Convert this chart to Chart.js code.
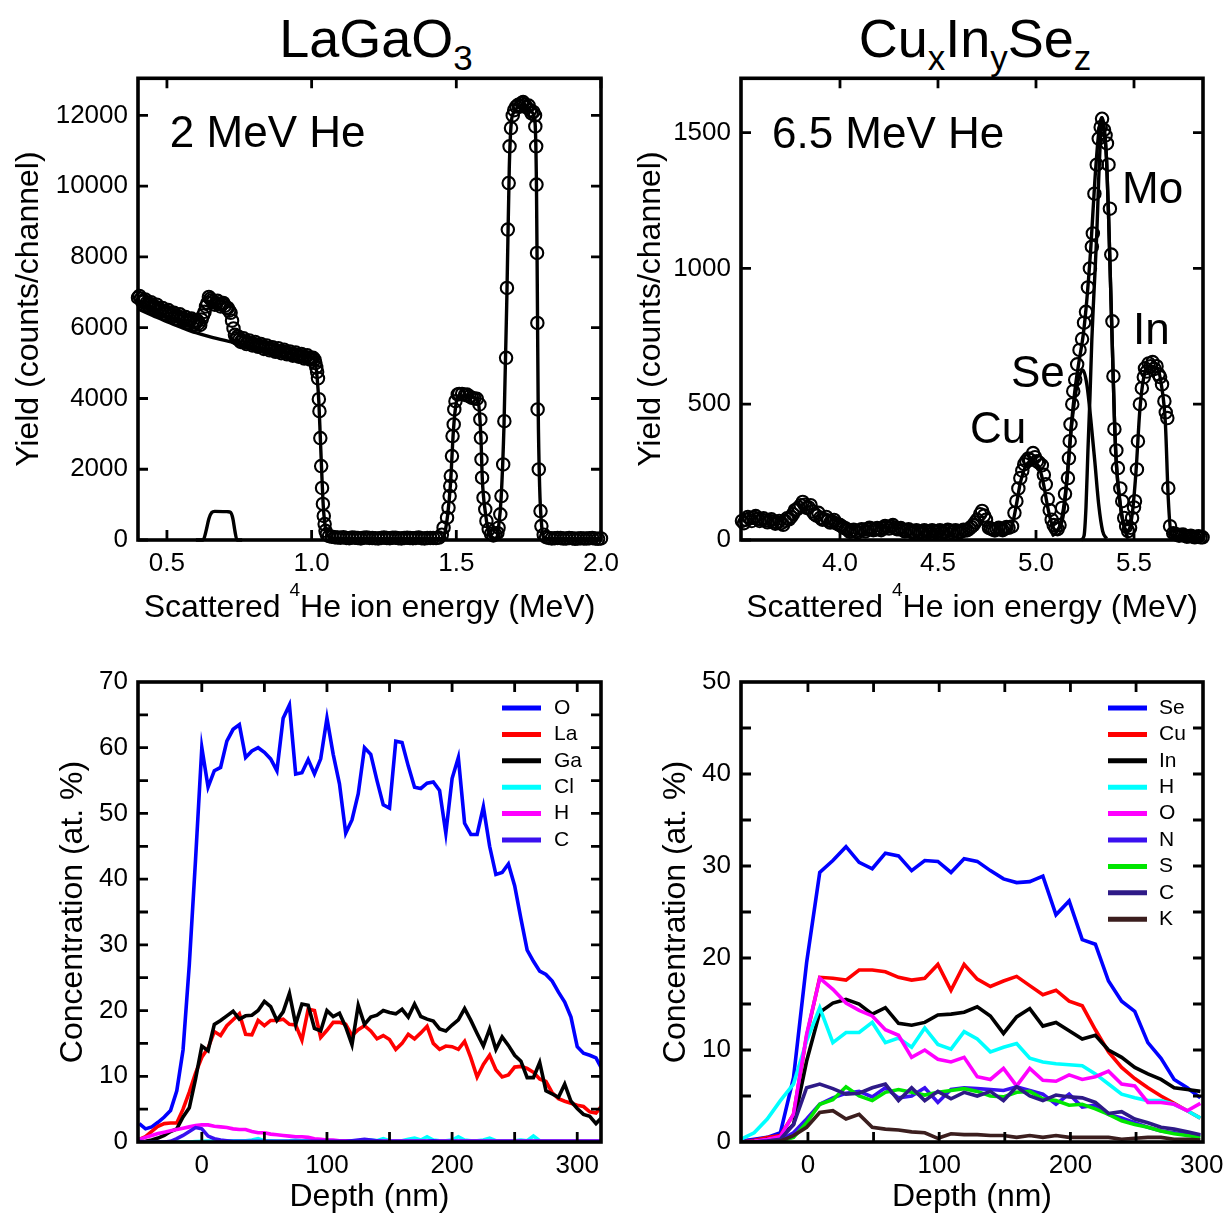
<!DOCTYPE html>
<html>
<head>
<meta charset="utf-8">
<script src="https://cdn.jsdelivr.net/npm/chart.js@4.4.1/dist/chart.umd.min.js"></script>
<style>
body { margin: 0; background: #fff; }
#page { position: relative; width: 1227px; height: 1213px; overflow: hidden; font-family: 'Liberation Sans', Arial, sans-serif; }
canvas { position: absolute; }
.ttl { position: absolute; top: 11px; font-size: 54px; line-height: 54px; white-space: nowrap; text-align: center; width: 600px; }
.ttl span { font-size: 35px; position: relative; top: 13px; }
</style>
</head>
<body>
<div id="page">
  <div class="ttl" style="left:76px">LaGaO<span>3</span></div>
  <div class="ttl" style="left:675px">Cu<span>x</span>In<span>y</span>Se<span>z</span></div>
  <canvas id="tl" width="640" height="570" style="left:0;top:70px"></canvas>
  <canvas id="tr" width="614" height="570" style="left:613px;top:70px"></canvas>
  <canvas id="bl" width="613" height="573" style="left:0;top:640px"></canvas>
  <canvas id="br" width="614" height="573" style="left:613px;top:640px"></canvas>
</div>
<script>
// ---- LaGaO3 spectrum (2 MeV He) ----
const tlDataE = [0.40,0.41,0.42,0.43,0.44,0.45,0.46,0.47,0.48,0.49,0.50,0.51,0.52,0.53,0.54,0.55,0.56,0.57,0.58,0.59,0.60,0.61,0.62,0.63,0.64,0.645,0.65,0.66,0.67,0.68,0.69,0.70,0.71,0.72,0.725,0.73,0.735,0.74,0.75,0.76,0.77,0.78,0.79,0.80,0.81,0.82,0.83,0.84,0.85,0.86,0.87,0.88,0.89,0.90,0.91,0.92,0.93,0.94,0.95,0.96,0.97,0.98,0.99,1.00,1.005,1.010,1.013,1.016,1.019,1.022,1.025,1.027,1.030,1.033,1.036,1.039,1.042,1.045,1.048,1.052,1.06,1.07,1.08,1.09,1.10,1.12,1.14,1.16,1.18,1.20,1.22,1.24,1.26,1.28,1.30,1.32,1.34,1.36,1.38,1.40,1.42,1.44,1.45,1.456,1.468,1.473,1.477,1.479,1.481,1.485,1.487,1.491,1.493,1.497,1.505,1.51,1.52,1.53,1.537,1.545,1.554,1.562,1.571,1.580,1.583,1.585,1.587,1.589,1.594,1.600,1.604,1.612,1.62,1.628,1.635,1.642,1.646,1.652,1.656,1.662,1.666,1.672,1.675,1.678,1.681,1.684,1.689,1.695,1.70,1.707,1.714,1.72,1.726,1.731,1.737,1.743,1.75,1.755,1.760,1.766,1.772,1.773,1.776,1.777,1.779,1.780,1.781,1.785,1.791,1.794,1.802,1.81,1.82,1.84,1.86,1.88,1.90,1.92,1.94,1.96,1.98,2.00]
const tlDataY = [6850,6820,6760,6700,6680,6620,6590,6560,6500,6470,6440,6420,6370,6330,6320,6280,6250,6200,6220,6170,6150,6120,6230,6450,6700,6870,6820,6740,6700,6660,6680,6620,6560,6420,6200,5980,5800,5700,5660,5640,5600,5580,5560,5540,5520,5480,5470,5450,5420,5400,5380,5350,5340,5330,5300,5280,5260,5250,5230,5200,5190,5160,5150,5120,5150,5100,5000,4880,4750,4570,3980,3640,2880,2090,1470,1020,680,450,260,160,110,90,80,70,65,60,70,55,65,60,50,60,55,65,50,60,55,60,50,55,60,70,150,347,630,912,1243,1525,1807,2372,2937,3267,3690,3925,4114,4130,4130,4100,4110,4060,4020,4000,3990,3830,3408,2889,2278,1760,1195,866,537,301,170,130,160,200,347,725,1243,2137,3360,5148,7125,8774,10090,11126,11643,12000,12150,12250,12300,12250,12350,12380,12300,12230,12280,12150,12060,12100,12000,11690,11126,10045,8114,6137,3690,1996,819,395,150,80,60,50,55,45,50,40,45,50,40,45]
// in-between channels of the plateau and background bands
const tlMoreE = [0.405,0.415,0.425,0.435,0.445,0.455,0.465,0.475,0.485,0.495,0.505,0.515,0.525,0.535,0.545,0.555,0.565,0.575,0.585,0.595,0.605,0.615,0.625,0.635,0.655,0.665,0.675,0.685,0.695,0.705,0.715,0.745,0.755,0.765,0.775,0.785,0.795,0.805,0.815,0.825,0.835,0.845,0.855,0.865,0.875,0.885,0.895,0.905,0.915,0.925,0.935,0.945,0.955,0.965,0.975,0.985,0.995,1.11,1.13,1.15,1.17,1.19,1.21,1.23,1.25,1.27,1.29,1.31,1.33,1.35,1.37,1.39,1.41,1.43,1.83,1.85,1.87,1.89,1.91,1.93,1.95,1.97,1.99]
const tlMoreY = [6900,6730,6800,6640,6720,6560,6650,6480,6560,6400,6500,6350,6420,6260,6380,6220,6300,6140,6260,6100,6200,6080,6350,6600,6780,6650,6760,6600,6700,6560,6480,5760,5600,5700,5540,5640,5500,5600,5460,5540,5400,5500,5360,5450,5320,5420,5280,5380,5250,5330,5210,5300,5180,5260,5130,5220,5100,75,50,65,45,70,55,45,70,50,65,45,65,50,70,45,60,55,45,60,40,55,35,50,40,55,35]
const tlSimE = [0.40,0.45,0.50,0.55,0.60,0.65,0.70,0.75,0.80,0.85,0.90,0.95,1.00,1.01,1.015,1.02,1.025,1.03,1.035,1.04,1.045,1.05,1.06,1.08,1.45,1.46,1.47,1.48,1.49,1.50,1.51,1.55,1.575,1.58,1.585,1.59,1.60,1.61,1.62,1.64,1.645,1.655,1.665,1.675,1.683,1.69,1.70,1.73,1.76,1.772,1.777,1.780,1.783,1.788,1.795,1.80,1.82,2.0]
const tlSimY = [6530,6350,6170,6010,5860,5740,5640,5550,5460,5380,5310,5230,5150,5080,4900,4500,3900,2900,1900,1000,500,250,90,40,40,200,700,1600,3100,3900,4080,4050,3950,3600,2900,1700,800,300,80,50,300,1200,3300,7000,10500,11800,12100,12300,12100,11800,10000,7000,3700,1500,400,100,40,40]
const tlClE = [0.60,0.625,0.635,0.645,0.655,0.665,0.71,0.72,0.728,0.735,0.742,0.76]
const tlClY = [0,0,250,600,780,810,800,780,600,250,0,0]
const tlXLabels = [0.5, 1.0, 1.5, 2.0]
const tlYLabels = [0, 2000, 4000, 6000, 8000, 10000, 12000]

// ---- CuxInySez spectrum (6.5 MeV He) ----
const trDataE = [3.50,3.52,3.54,3.56,3.58,3.60,3.62,3.64,3.66,3.68,3.70,3.72,3.74,3.76,3.78,3.80,3.82,3.84,3.86,3.88,3.90,3.92,3.94,3.96,3.98,4.00,4.02,4.04,4.06,4.08,4.10,4.12,4.14,4.16,4.18,4.20,4.22,4.24,4.26,4.28,4.30,4.32,4.34,4.36,4.38,4.40,4.42,4.44,4.46,4.48,4.50,4.52,4.54,4.56,4.58,4.60,4.62,4.64,4.66,4.68,4.70,4.715,4.725,4.735,4.745,4.76,4.78,4.80,4.82,4.84,4.86,4.878,4.89,4.90,4.91,4.92,4.93,4.94,4.95,4.96,4.97,4.985,4.995,5.005,5.015,5.03,5.04,5.05,5.06,5.07,5.08,5.09,5.10,5.11,5.12,5.133,5.148,5.163,5.168,5.172,5.176,5.185,5.19,5.20,5.21,5.222,5.235,5.245,5.255,5.265,5.275,5.285,5.29,5.298,5.31,5.32,5.33,5.337,5.347,5.355,5.362,5.37,5.377,5.384,5.39,5.395,5.40,5.41,5.418,5.43,5.44,5.45,5.46,5.47,5.48,5.49,5.50,5.505,5.515,5.52,5.53,5.54,5.55,5.556,5.565,5.575,5.585,5.595,5.605,5.615,5.625,5.633,5.643,5.655,5.662,5.67,5.675,5.684,5.70,5.72,5.74,5.76,5.78,5.80,5.82,5.84,5.85]
const trDataY = [70,75,80,82,78,75,72,70,68,64,62,70,76,95,113,128,130,120,105,90,82,76,72,68,62,55,45,38,33,32,35,38,40,42,38,40,45,48,50,45,40,38,35,32,30,32,30,33,30,32,33,30,32,35,33,30,32,35,42,55,75,95,107,90,75,45,38,40,40,42,45,50,100,143,190,228,255,279,290,300,295,320,305,290,285,275,240,205,150,110,75,55,42,40,55,118,170,228,301,364,426,500,548,590,647,700,740,800,840,930,1000,1080,1129,1275,1382,1478,1520,1551,1510,1490,1460,1382,1220,1051,805,603,408,330,265,190,143,81,50,33,45,81,120,143,260,364,500,559,600,632,620,650,640,655,630,640,610,600,573,511,470,449,191,51,25,20,18,15,14,12,12,10,10]
const trMoreE = [3.51,3.53,3.55,3.57,3.59,3.61,3.63,3.65,3.67,3.69,3.71,3.73,3.75,3.77,3.79,3.81,3.83,3.85,3.87,3.89,3.91,3.93,3.95,3.97,3.99,4.01,4.03,4.05,4.07,4.09,4.11,4.13,4.15,4.17,4.19,4.21,4.23,4.25,4.27,4.29,4.31,4.33,4.35,4.37,4.39,4.41,4.43,4.45,4.47,4.49,4.51,4.53,4.55,4.57,4.59,4.61,4.63,4.65,4.67,4.69,4.77,4.79,4.81,4.83,4.85,5.71,5.73,5.75,5.77,5.79,5.81,5.83]
const trMoreY = [62,85,70,88,70,80,65,76,60,70,56,80,85,110,120,140,118,128,95,100,75,85,64,74,58,50,42,30,38,28,40,32,45,36,44,36,52,42,55,40,44,32,40,28,36,26,36,28,36,28,36,26,38,28,36,28,38,36,48,65,42,35,45,36,48,22,16,20,12,16,10,14]
const trSimE = [4.80,4.85,4.88,4.90,4.92,4.95,4.98,5.00,5.02,5.04,5.06,5.08,5.10,5.12,5.14,5.16,5.18,5.20,5.22,5.24,5.26,5.28,5.30,5.32,5.335,5.35,5.36,5.37,5.38,5.39,5.40,5.41,5.43,5.45,5.47,5.49,5.51,5.53,5.55,5.58,5.62,5.64,5.66,5.675,5.69,5.72,5.85]
const trSimY = [20,25,60,130,210,275,290,285,260,200,120,60,35,45,95,240,420,560,660,750,890,1080,1320,1500,1555,1500,1400,1200,950,700,450,280,130,50,35,90,250,480,600,640,630,570,430,150,20,8,5]
const trSeE = [5.08,5.10,5.12,5.14,5.16,5.18,5.20,5.22,5.24,5.26,5.28,5.30,5.32,5.34,5.36]
const trSeY = [15,25,50,115,240,410,530,600,625,570,440,290,130,33,5]
const trMoE = [5.23,5.245,5.255,5.265,5.275,5.285,5.295,5.31,5.32,5.33,5.337,5.35,5.36,5.37,5.38,5.39,5.40,5.41,5.43,5.45,5.47]
const trMoY = [0,15,120,330,520,740,900,1125,1330,1492,1555,1500,1400,1200,950,700,450,280,130,45,5]
const trXLabels = [4.0, 4.5, 5.0, 5.5]
const trYLabels = [0, 500, 1000, 1500]

// ---- LaGaO3 depth profile ----
const blDepth = [-50,-45,-40,-35,-30,-25,-20,-15,-10,-5,0,5,10,15,20,25,30,35,40,45,50,55,60,65,70,75,80,85,90,95,100,105,110,115,120,125,130,135,140,145,150,155,160,165,170,175,180,185,190,195,200,205,210,215,220,225,230,235,240,245,250,255,260,265,270,275,280,285,290,295,300,305,310,315,320]
const blO = [2.8,2.0,2.3,3.0,3.8,4.8,7.8,14,27,43,60,54,56.5,57,61,62.8,63.5,58.5,59.5,60,59.3,58.3,56.5,64.5,66.5,56,56.2,58.2,56,58.3,64.5,59,54.5,47,49,53,60,59,55,51.3,50.8,61,60.8,57.2,54,53.8,54.6,54.8,53.5,47,55.3,58.5,48.5,46.8,46.8,51,45,40.7,41,42.3,39,34,29.2,27.5,26,25.5,24.5,22.8,21.3,19,14.5,13.5,13.2,12.8,11]
const blLa = [0.4,0.8,1.6,2.4,2.8,2.9,2.9,5.0,7.6,10.5,12.9,14.3,16.8,16.2,17.7,18.6,19.5,16.4,16.3,18.5,17.7,18.5,18.5,18.7,17.9,17.8,15.5,20.2,20,15.9,17.0,18.2,18.2,17.9,16.2,17.1,17.7,16.9,15.7,16.2,15.6,14.1,15.0,16.4,15.7,16.6,17.6,15.0,14.1,14.6,14.5,14.1,15.3,12.8,9.9,11.8,13.2,11.0,9.9,10.2,11.4,11.5,11.2,10.6,9.6,9.2,7.5,6.6,6.2,5.9,5.6,5.4,4.6,4.4,5.6]
const blGa = [0,0.1,0.3,0.6,1.0,1.6,2.0,3.8,5.2,9.6,14.6,13.9,17.9,18.5,19.2,19.9,18.7,19.2,19.3,20.0,21.4,20.6,18.5,19.8,22.6,17.9,21.0,20.8,17.3,16.9,20.0,19.1,19.6,17.5,14.8,20.8,17.9,19.0,19.3,20.0,19.7,19.5,20.2,19.0,21.0,19.1,18.7,18.4,17.2,16.9,17.8,18.6,20.3,18.5,16.5,14.6,17.2,14.1,16.0,14.7,13.2,12.3,9.8,9.8,12.1,7.8,7.3,6.8,8.8,6.2,5.1,4.2,3.9,2.8,3.8]
const blCl = [0,0,0,0,0,0,0,0,0,0.05,0.1,0.15,0.15,0.15,0.15,0.2,0.2,0.2,0.3,0.5,0.2,0.2,0.15,0.15,0.2,0.3,0.2,0.2,0.15,0.2,0.3,0.2,0.15,0.15,0.2,0.2,0.15,0.3,0.2,0.5,0.2,0.2,0.2,0.4,0.6,0.3,0.8,0.3,0.2,0.2,0.3,0.8,0.3,0.2,0.2,0.3,0.6,0.2,0.2,0.2,0.2,0.3,0.2,0.9,0.2,0.15,0.15,0.15,0.1,0.1,0.1,0.1,0.1,0.1,0.1]
const blH = [0.4,0.7,1.0,1.3,1.5,1.7,1.9,2.1,2.3,2.5,2.6,2.6,2.4,2.3,2.2,2.0,1.9,1.9,1.6,1.4,1.4,1.2,1.1,1.0,0.9,0.8,0.8,0.7,0.5,0.4,0.3,0.3,0.2,0.2,0.2,0.2,0.15,0.15,0.15,0.15,0.15,0.15,0.15,0.15,0.15,0.15,0.15,0.15,0.15,0.15,0.15,0.15,0.15,0.15,0.15,0.15,0.15,0.15,0.15,0.15,0.15,0.15,0.15,0.15,0.15,0.15,0.15,0.15,0.15,0.15,0.15,0.15,0.15,0.15,0.15]
const blC = [0.1,0,0,0,0,0.1,0.5,1.0,1.6,2.2,2.0,0.9,0.5,0.3,0.2,0.1,0.1,0.1,0.1,0.1,0.1,0.1,0.1,0.1,0.1,0.1,0.1,0.1,0.1,0.1,0.1,0.1,0.1,0.1,0.2,0.3,0.4,0.3,0.2,0.1,0.1,0.1,0.1,0.1,0.1,0.1,0.1,0.2,0.1,0.1,0.1,0.1,0.1,0.1,0.1,0.1,0.1,0.1,0.1,0.1,0.1,0.1,0.1,0.1,0.1,0.1,0.1,0.1,0.1,0.1,0.1,0.1,0.1,0.1,0.1]
const blXLabels = [0, 100, 200, 300]
const blXMarks = [0, 50, 100, 150, 200, 250, 300]
const blYLabels = [0, 10, 20, 30, 40, 50, 60, 70]
const blYMarks = [5, 10, 15, 20, 25, 30, 35, 40, 45, 50, 55, 60, 65]

// ---- CuxInySez depth profile ----
const brDepth = [-51,-41,-31,-21,-11,-1,9,19,29,39,49,59,69,79,89,99,109,119,129,139,149,159,169,179,189,199,209,219,229,239,249,259,269,279,289,299]
const brSe = [0.1,0.3,0.5,1.0,7,19.5,29.3,30.6,32.1,30.4,29.7,31.4,31.1,29.5,30.6,30.5,29.3,30.8,30.5,29.5,28.6,28.2,28.3,28.9,24.7,26.2,22,21.5,17.5,15.3,14.2,10.8,9.1,6.8,5.9,4.8]
const brCu = [0,0.2,0.5,0.7,3,11.5,17.9,17.8,17.6,18.7,18.7,18.5,17.9,17.6,17.8,19.3,16.5,19.3,17.7,16.9,17.5,18.0,17.0,16.0,16.5,15.3,14.8,12.2,9.8,8.1,6.9,5.9,5.0,4.2,3.4,2.6]
const brIn = [0,0.1,0.3,0.5,1.9,8.8,14.1,15.1,15.5,15.0,13.9,14.6,12.9,12.7,13.0,13.8,13.9,14.1,14.7,13.7,11.8,13.6,14.5,12.6,13.0,12.1,11.2,11.6,10.0,9.2,8.1,7.4,6.8,5.9,5.7,5.5]
const brH = [0.3,1.0,2.5,4.5,6.3,11.0,14.6,10.8,11.9,11.9,13.0,10.8,11.3,10.3,12.4,10.6,10.1,12.0,11.2,9.8,10.3,10.7,9.1,8.7,8.5,8.4,8.3,7.4,6.3,5.2,4.8,4.5,4.5,4.1,3.4,2.6]
const brO = [0,0.1,0.3,0.6,3.0,11.7,17.8,16.6,15.1,14.3,13.7,12.2,11.6,9.2,10.0,9.0,8.7,9.2,7.1,6.8,8.0,6.1,8.0,6.7,6.6,7.3,6.8,7.1,7.7,6.3,6.1,4.3,4.3,4.1,3.4,4.2]
const brN = [0,0,0.1,0.2,1.0,2.5,4.1,4.8,5.3,5.5,4.9,5.9,4.8,5.0,5.9,4.3,5.7,5.9,5.8,5.7,5.6,6.0,5.6,5.2,4.1,5.2,3.8,4.0,3.0,2.6,2.1,1.6,1.2,1.0,0.8,0.7]
const brS = [0,0,0,0.1,0.5,2.1,4.1,4.6,6.0,5.0,4.5,5.4,5.7,5.4,5.1,5.4,5.6,5.8,5.5,5.0,4.9,5.4,5.5,4.7,4.5,4.0,4.1,3.6,3.0,2.3,1.9,1.6,1.2,0.9,0.7,0.5]
const brC = [0,0,0.1,0.3,1.9,5.9,6.3,5.8,5.2,5.3,5.9,6.3,4.5,5.9,4.5,5.5,4.7,5.4,5.0,5.5,4.5,6.0,5.0,4.5,5.1,4.9,4.8,4.3,3.1,3.3,2.5,2.1,1.6,1.4,1.1,0.8]
const brK = [0,0,0,0.1,0.7,1.6,3.2,3.4,2.5,3.0,1.6,1.4,1.3,1.1,1.0,0.4,0.9,0.8,0.8,0.7,0.7,0.5,0.7,0.5,0.7,0.5,0.5,0.5,0.5,0.3,0.4,0.5,0.5,0.3,0.3,0.2]
const brXLabels = [0, 100, 200, 300]
const brXMarks = [0, 50, 100, 150, 200, 250]
const brYLabels = [0, 10, 20, 30, 40, 50]
const brYMarks = [5, 10, 15, 20, 25, 30, 35, 40, 45]

const FONT = "'Liberation Sans', Arial, sans-serif"
Chart.defaults.font.family = FONT
Chart.defaults.color = '#000'

const pts = (xs, ys) => xs.map((x, i) => ({ x: x, y: ys[i] }))

// frame, inward ticks, legend, text notes and the 4He axis title
const framePlugin = {
    id: 'frame',
    afterDatasetsDraw(chart, args, o) {
        const { ctx, chartArea: a } = chart
        const xs = chart.scales.x, ys = chart.scales.y
        ctx.save()
        ctx.strokeStyle = '#000'
        ctx.lineWidth = 2.8
        ctx.beginPath()
        o.xMarks.forEach(v => {
            const p = xs.getPixelForValue(v)
            ctx.moveTo(p, a.bottom); ctx.lineTo(p, a.bottom - 10)
            ctx.moveTo(p, a.top); ctx.lineTo(p, a.top + 10)
        })
        o.yMarks.forEach(v => {
            const p = ys.getPixelForValue(v)
            ctx.moveTo(a.left, p); ctx.lineTo(a.left + 10, p)
            ctx.moveTo(a.right, p); ctx.lineTo(a.right - 10, p)
        })
        ctx.stroke()
        ctx.lineWidth = 3.6
        ctx.strokeRect(a.left, a.top, a.right - a.left, a.bottom - a.top)

        ctx.fillStyle = '#000'
        if (o.legend) {
            ctx.font = '21px ' + FONT
            ctx.textBaseline = 'middle'
            ctx.textAlign = 'left'
            chart.data.datasets.forEach((ds, i) => {
                const yy = a.top + o.legend.top + i * 26.4
                ctx.strokeStyle = ds.borderColor
                ctx.lineWidth = 5
                ctx.beginPath()
                ctx.moveTo(a.right - o.legend.line, yy)
                ctx.lineTo(a.right - o.legend.line + 39, yy)
                ctx.stroke()
                ctx.fillText(ds.label, a.right - o.legend.text, yy)
            })
        }
        if (o.notes) {
            ctx.font = '44px ' + FONT
            ctx.textBaseline = 'alphabetic'
            ctx.textAlign = 'left'
            o.notes.forEach(n => ctx.fillText(n.t, xs.getPixelForValue(n.x), ys.getPixelForValue(n.y)))
        }
        if (o.xTitle) {
            const big = '32px ' + FONT, small = '19px ' + FONT
            ctx.textBaseline = 'alphabetic'
            ctx.textAlign = 'left'
            ctx.font = big
            const w1 = ctx.measureText('Scattered ').width
            const w3 = ctx.measureText('He ion energy (MeV)').width
            ctx.font = small
            const w2 = ctx.measureText('4').width
            let x0 = (a.left + a.right) / 2 - (w1 + w2 + w3) / 2
            ctx.font = big
            ctx.fillText('Scattered ', x0, a.bottom + 77)
            ctx.font = small
            ctx.fillText('4', x0 + w1, a.bottom + 56)
            ctx.font = big
            ctx.fillText('He ion energy (MeV)', x0 + w1 + w2, a.bottom + 77)
        }
        ctx.restore()
    }
}

const sizer = (w, h) => s => {
    if (w != null) s.width = w
    if (h != null) s.height = h
    s.paddingLeft = 0; s.paddingRight = 0; s.paddingTop = 0; s.paddingBottom = 0
}

const axis = (min, max, labels, fmt, pad, fit, title) => ({
    type: 'linear', min: min, max: max,
    grid: { display: false, drawTicks: false },
    border: { display: false },
    afterBuildTicks: s => { s.ticks = labels.map(v => ({ value: v })) },
    afterFit: fit,
    ticks: { font: { size: 26 }, color: '#000', padding: pad, callback: fmt, maxRotation: 0, autoSkip: false },
    title: title || { display: false }
})

const yTitle = (text, p) => ({ display: true, text: text, color: '#000', font: { size: 32, lineHeight: 1.2 }, padding: { top: p, bottom: 0 } })
const depthTitle = { display: true, text: 'Depth (nm)', color: '#000', font: { size: 32, lineHeight: 1 }, padding: { top: 0, bottom: 0 } }

const baseOpts = (padding, scales, frame) => ({
    responsive: false, animation: false, devicePixelRatio: 1, events: [],
    layout: { padding: padding },
    scales: scales,
    plugins: { legend: { display: false }, tooltip: { enabled: false }, frame: frame }
})

const circles = (xs, ys) => ({
    data: pts(xs, ys), showLine: false, pointRadius: 6.2, pointBorderWidth: 2.1,
    pointBorderColor: '#000', pointBackgroundColor: 'rgba(0,0,0,0)', clip: 8, order: 2
})
const simLine = (xs, ys) => ({
    data: pts(xs, ys), showLine: true, borderColor: '#000', borderWidth: 3.4, pointRadius: 0,
    cubicInterpolationMode: 'monotone', clip: 4, order: 1
})

// top left
new Chart(document.getElementById('tl'), {
    type: 'scatter',
    data: { datasets: [circles(tlDataE, tlDataY), circles(tlMoreE, tlMoreY), simLine(tlSimE, tlSimY), simLine(tlClE, tlClY)] },
    options: baseOpts({ left: 0, top: 7, right: 39, bottom: 0 }, {
        x: axis(0.4, 2.0, tlXLabels, v => v.toFixed(1), 8, sizer(null, 100)),
        y: axis(0, 13050, tlYLabels, v => String(v), 10, sizer(138, null), yTitle('Yield (counts/channel)', 10))
    }, { xMarks: tlXLabels, yMarks: tlYLabels, xTitle: true, notes: [{ t: '2 MeV He', x: 0.51, y: 11100 }] }),
    plugins: [framePlugin]
})

// top right
new Chart(document.getElementById('tr'), {
    type: 'scatter',
    data: { datasets: [circles(trDataE, trDataY), circles(trMoreE, trMoreY), simLine(trSimE, trSimY), simLine(trSeE, trSeY), simLine(trMoE, trMoY)] },
    options: baseOpts({ left: 0, top: 7, right: 24, bottom: 0 }, {
        x: axis(3.495, 5.852, trXLabels, v => v.toFixed(1), 8, sizer(null, 100)),
        y: axis(0, 1700, trYLabels, v => String(v), 10, sizer(128, null), yTitle('Yield (counts/channel)', 19))
    }, {
        xMarks: trXLabels, yMarks: trYLabels, xTitle: true,
        notes: [{ t: '6.5 MeV He', x: 3.653, y: 1445 }, { t: 'Mo', x: 5.439, y: 1242 },
                { t: 'In', x: 5.495, y: 720 }, { t: 'Se', x: 4.872, y: 562 }, { t: 'Cu', x: 4.663, y: 357 }]
    }),
    plugins: [framePlugin]
})

const profile = (label, color, xs, ys, i, n) => ({
    label: label, data: pts(xs, ys), borderColor: color, borderWidth: 3.6,
    pointRadius: 0, tension: 0, order: n - i
})

// bottom left
const blSets = [['O', '#0000ff', blO], ['La', '#ff0000', blLa], ['Ga', '#000000', blGa],
                ['Cl', '#00ffff', blCl], ['H', '#ff00ff', blH], ['C', '#3a10f0', blC]]
new Chart(document.getElementById('bl'), {
    type: 'line',
    data: { datasets: blSets.map((s, i) => profile(s[0], s[1], blDepth, s[2], i, blSets.length)) },
    options: baseOpts({ left: 0, top: 42, right: 12, bottom: 0 }, {
        x: axis(-51, 319, blXLabels, v => String(v), 8, sizer(null, 71), depthTitle),
        y: axis(0, 70, blYLabels, v => String(v), 10, sizer(138, null), yTitle('Concentration (at. %)', 54))
    }, { xMarks: blXMarks, yMarks: blYMarks, legend: { top: 26, line: 99, text: 47 } }),
    plugins: [framePlugin]
})

// bottom right
const brSets = [['Se', '#0000ff', brSe], ['Cu', '#ff0000', brCu], ['In', '#000000', brIn],
                ['H', '#00ffff', brH], ['O', '#ff00ff', brO], ['N', '#3a10f0', brN],
                ['S', '#00e600', brS], ['C', '#2e1a87', brC], ['K', '#3b1e1e', brK]]
new Chart(document.getElementById('br'), {
    type: 'line',
    data: { datasets: brSets.map((s, i) => profile(s[0], s[1], brDepth, s[2], i, brSets.length)) },
    options: baseOpts({ left: 0, top: 42, right: 24, bottom: 0 }, {
        x: axis(-51, 301, brXLabels, v => String(v), 8, sizer(null, 71), depthTitle),
        y: axis(0, 50, brYLabels, v => String(v), 10, sizer(128, null), yTitle('Concentration (at. %)', 44))
    }, { xMarks: brXMarks, yMarks: brYMarks, legend: { top: 26, line: 95, text: 44 } }),
    plugins: [framePlugin]
})
</script>
</body>
</html>
